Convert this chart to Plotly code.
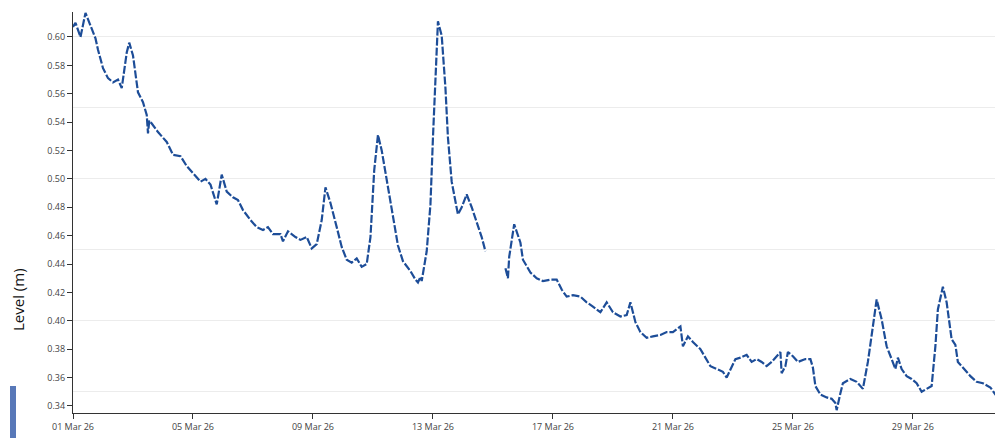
import plotly.graph_objects as go

# ---- data (time, level in m); None marks a data gap ----
times = [
    "2026-03-01 00:00", "2026-03-01 02:00", "2026-03-01 06:00", "2026-03-01 10:00", "2026-03-01 14:00",
    "2026-03-01 18:00", "2026-03-01 20:00", "2026-03-02 00:00", "2026-03-02 04:00", "2026-03-02 08:00",
    "2026-03-02 12:00", "2026-03-02 15:00", "2026-03-02 19:00", "2026-03-02 21:00", "2026-03-03 00:00",
    "2026-03-03 04:00", "2026-03-03 08:00", "2026-03-03 11:00", "2026-03-03 12:00", "2026-03-03 13:00",
    "2026-03-03 15:00", "2026-03-03 20:00", "2026-03-04 03:00", "2026-03-04 08:00", "2026-03-04 14:00",
    "2026-03-04 19:00", "2026-03-05 00:00", "2026-03-05 06:00", "2026-03-05 10:00", "2026-03-05 14:00",
    "2026-03-05 19:00", "2026-03-05 23:00", "2026-03-06 03:00", "2026-03-06 08:00", "2026-03-06 12:00",
    "2026-03-06 16:00", "2026-03-06 22:00", "2026-03-07 03:00", "2026-03-07 08:00", "2026-03-07 12:00",
    "2026-03-07 16:00", "2026-03-07 22:00", "2026-03-08 00:00", "2026-03-08 04:00", "2026-03-08 10:00",
    "2026-03-08 14:00", "2026-03-08 19:00", "2026-03-08 23:00", "2026-03-09 03:00", "2026-03-09 07:00",
    "2026-03-09 10:00", "2026-03-09 14:00", "2026-03-09 19:00", "2026-03-09 23:00", "2026-03-10 03:00",
    "2026-03-10 07:00", "2026-03-10 11:00", "2026-03-10 15:00", "2026-03-10 19:00", "2026-03-10 22:00",
    "2026-03-11 01:00", "2026-03-11 04:00", "2026-03-11 07:00", "2026-03-11 11:00", "2026-03-11 16:00",
    "2026-03-11 20:00", "2026-03-12 00:00", "2026-03-12 06:00", "2026-03-12 10:00", "2026-03-12 12:00",
    "2026-03-12 14:00", "2026-03-12 15:00", "2026-03-12 19:00", "2026-03-12 22:00", "2026-03-13 00:00",
    "2026-03-13 02:00", "2026-03-13 04:00", "2026-03-13 07:00", "2026-03-13 10:00", "2026-03-13 12:00",
    "2026-03-13 15:00", "2026-03-13 18:00", "2026-03-13 20:00", "2026-03-13 23:00", "2026-03-14 03:00",
    "2026-03-14 07:00", "2026-03-14 11:00", "2026-03-14 15:00", "2026-03-14 18:00", "2026-03-15 00:00",
    "2026-03-15 10:00", "2026-03-15 12:00", "2026-03-15 13:00", "2026-03-15 17:00", "2026-03-15 22:00",
    "2026-03-16 00:00", "2026-03-16 06:00", "2026-03-16 11:00", "2026-03-16 16:00", "2026-03-16 22:00",
    "2026-03-17 03:00", "2026-03-17 07:00", "2026-03-17 11:00", "2026-03-17 16:00", "2026-03-17 22:00",
    "2026-03-18 03:00", "2026-03-18 08:00", "2026-03-18 14:00", "2026-03-18 19:00", "2026-03-19 00:00",
    "2026-03-19 06:00", "2026-03-19 11:00", "2026-03-19 14:00", "2026-03-19 18:00", "2026-03-19 22:00",
    "2026-03-20 03:00", "2026-03-20 08:00", "2026-03-20 14:00", "2026-03-20 19:00", "2026-03-21 00:00",
    "2026-03-21 06:00", "2026-03-21 08:00", "2026-03-21 12:00", "2026-03-21 16:00", "2026-03-21 22:00",
    "2026-03-22 02:00", "2026-03-22 06:00", "2026-03-22 11:00", "2026-03-22 16:00", "2026-03-22 19:00",
    "2026-03-22 22:00", "2026-03-23 02:00", "2026-03-23 06:00", "2026-03-23 11:00", "2026-03-23 15:00",
    "2026-03-23 19:00", "2026-03-23 23:00", "2026-03-24 03:00", "2026-03-24 07:00", "2026-03-24 11:00",
    "2026-03-24 14:00", "2026-03-24 15:00", "2026-03-24 18:00", "2026-03-24 20:00", "2026-03-25 00:00",
    "2026-03-25 04:00", "2026-03-25 10:00", "2026-03-25 14:00", "2026-03-25 16:00", "2026-03-25 18:00",
    "2026-03-25 22:00", "2026-03-26 03:00", "2026-03-26 07:00", "2026-03-26 10:00", "2026-03-26 11:00",
    "2026-03-26 14:00", "2026-03-26 16:00", "2026-03-26 22:00", "2026-03-27 03:00", "2026-03-27 08:00",
    "2026-03-27 12:00", "2026-03-27 16:00", "2026-03-27 19:00", "2026-03-27 23:00", "2026-03-28 03:00",
    "2026-03-28 07:00", "2026-03-28 10:00", "2026-03-28 12:00", "2026-03-28 15:00", "2026-03-28 19:00",
    "2026-03-28 23:00", "2026-03-29 03:00", "2026-03-29 07:00", "2026-03-29 11:00", "2026-03-29 15:00",
    "2026-03-29 18:00", "2026-03-29 20:00", "2026-03-30 00:00", "2026-03-30 03:00", "2026-03-30 07:00",
    "2026-03-30 10:00", "2026-03-30 12:00", "2026-03-30 16:00", "2026-03-30 22:00", "2026-03-31 03:00",
    "2026-03-31 08:00", "2026-03-31 14:00", "2026-03-31 18:00", "2026-03-31 22:00",
]
level_m = [
    0.607, 0.610, 0.600, 0.617, 0.608,
    0.599, 0.591, 0.578, 0.571, 0.568,
    0.570, 0.564, 0.589, 0.596, 0.587,
    0.561, 0.554, 0.545, 0.532, 0.541,
    0.539, 0.533, 0.526, 0.517, 0.516,
    0.509, 0.504, 0.498, 0.500, 0.496,
    0.482, 0.503, 0.491, 0.487, 0.485,
    0.478, 0.471, 0.466, 0.464, 0.466,
    0.461, 0.461, 0.456, 0.463, 0.459,
    0.457, 0.459, 0.451, 0.454, 0.471,
    0.494, 0.483, 0.466, 0.452, 0.443,
    0.441, 0.444, 0.438, 0.440, 0.459,
    0.506, 0.531, 0.520, 0.499, 0.471,
    0.453, 0.442, 0.435, 0.429, 0.427,
    0.431, 0.428, 0.449, 0.482, 0.529,
    0.575, 0.611, 0.601, 0.564, 0.529,
    0.498, 0.484, 0.475, 0.480, 0.489,
    0.480, 0.470, 0.459, 0.449, None,
    0.437, 0.430, 0.445, 0.468, 0.455,
    0.443, 0.434, 0.430, 0.428, 0.429,
    0.429, 0.422, 0.417, 0.418, 0.417,
    0.413, 0.410, 0.406, 0.413, 0.406,
    0.403, 0.404, 0.413, 0.399, 0.392,
    0.388, 0.389, 0.390, 0.392, 0.392,
    0.396, 0.382, 0.389, 0.385, 0.380,
    0.374, 0.368, 0.366, 0.364, 0.360,
    0.366, 0.373, 0.374, 0.376, 0.371,
    0.373, 0.371, 0.368, 0.371, 0.375,
    0.378, 0.363, 0.368, 0.378, 0.375,
    0.371, 0.373, 0.373, 0.367, 0.354,
    0.348, 0.346, 0.345, 0.342, 0.337,
    0.349, 0.356, 0.359, 0.357, 0.352,
    0.371, 0.396, 0.415, 0.401, 0.382,
    0.373, 0.366, 0.374, 0.366, 0.361,
    0.359, 0.356, 0.350, 0.352, 0.354,
    0.382, 0.408, 0.424, 0.413, 0.387,
    0.383, 0.371, 0.367, 0.361, 0.357,
    0.356, 0.353, 0.348, 0.345,
]
y_ticks = [0.34, 0.36, 0.38, 0.40, 0.42, 0.44, 0.46, 0.48, 0.50, 0.52, 0.54, 0.56, 0.58, 0.60]
y_tick_text = ["0.34", "0.36", "0.38", "0.40", "0.42", "0.44", "0.46", "0.48",
               "0.50", "0.52", "0.54", "0.56", "0.58", "0.60"]
y_title = "Level (m)"

# ---- layout constants (pixels); the page body adds an 8px offset ----
OFF = 8
W, H = 1003 - OFF, 441 - OFF
ML, MR, MT, MB = 73 - OFF, 2, 12 - OFF, 28
PW, PH = W - ML - MR, H - MT - MB
YRANGE = [0.335, 0.6176]
XRANGE = ["2026-03-01 00:00", "2026-03-31 22:30"]
LINE = "#1d4d98"
AXIS = "#333333"
TICKFONT = dict(family="Open Sans, Noto Sans, sans-serif", size=9, color="#444444")


def px_x(page_x):
    return (page_x - OFF - ML) / PW


def px_y(page_y):
    return (OFF + H - MB - page_y) / PH


fig = go.Figure()
fig.add_trace(go.Scatter(
    x=times, y=level_m, mode="lines", connectgaps=False,
    line=dict(color=LINE, width=2.2, dash="8px,2px"),
    showlegend=False, hoverinfo="x+y",
))
# invisible trace to carry the 0.05 grid axis
fig.add_trace(go.Scatter(x=[times[0]], y=[level_m[0]], yaxis="y2", mode="markers",
                         marker=dict(opacity=0), showlegend=False, hoverinfo="skip"))

fig.update_layout(
    width=W, height=H,
    margin=dict(l=ML, r=MR, t=MT, b=MB, autoexpand=False),
    paper_bgcolor="white", plot_bgcolor="white",
    xaxis=dict(
        range=XRANGE, type="date", automargin=False,
        tick0="2026-03-01", dtick=4 * 86400000, tickformat="%d %b %y",
        ticks="outside", ticklen=5, tickcolor=AXIS, tickwidth=1,
        showline=True, linecolor=AXIS, linewidth=1.2,
        showgrid=False, zeroline=False, tickfont=TICKFONT,
    ),
    yaxis=dict(
        range=YRANGE, tickvals=y_ticks, ticktext=y_tick_text, automargin=False,
        ticks="outside", ticklen=5, tickcolor=AXIS, tickwidth=1,
        showline=True, linecolor=AXIS, linewidth=1.2,
        showgrid=False, zeroline=False, tickfont=TICKFONT,
    ),
    yaxis2=dict(
        range=YRANGE, overlaying="y", side="left", tick0=0.35, dtick=0.05,
        showgrid=True, gridcolor="#ececec", gridwidth=1, automargin=False,
        showticklabels=False, ticks="", showline=False, zeroline=False,
    ),
    annotations=[dict(
        text=y_title, textangle=-90, showarrow=False,
        xref="paper", yref="paper",
        x=px_x(18), y=px_y(300),
        xanchor="center", yanchor="middle",
        font=dict(family="Open Sans, Noto Sans, sans-serif", size=15, color="#111111"),
    )],
    shapes=[dict(
        type="rect", xref="paper", yref="paper",
        x0=px_x(10), x1=px_x(16),
        y0=px_y(438), y1=px_y(386),
        fillcolor="#5878b8", line=dict(width=0), layer="above",
    )],
)

fig.write_html("out.html")
